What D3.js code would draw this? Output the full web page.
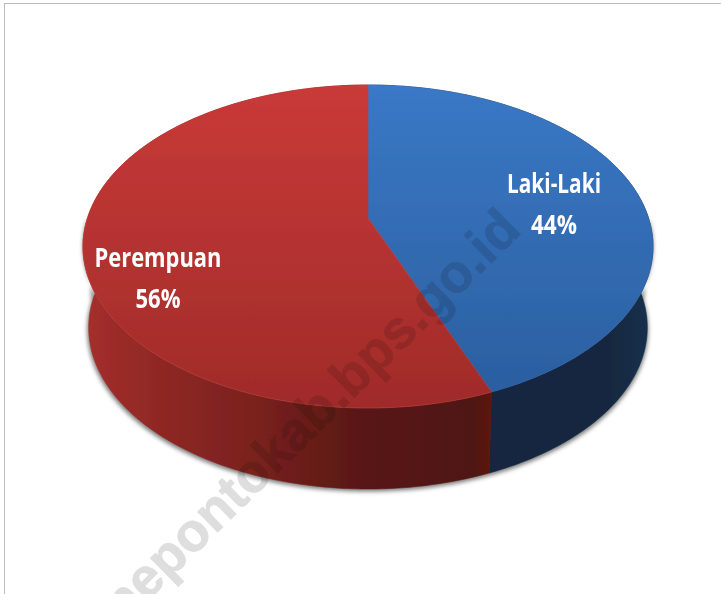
<!DOCTYPE html>
<html>
<head>
<meta charset="utf-8">
<script src="https://cdn.jsdelivr.net/npm/d3@7"></script>
<style>
html,body{margin:0;padding:0;background:#fff;overflow:hidden}
svg{display:block}
</style>
</head>
<body>
<svg id="chart" width="721" height="594"></svg>
<script>
// Data
const categories = ["Laki-Laki", "Perempuan"];
const percentages = [44, 56];
const watermarkText = "nepontokab.bps.go.id";

// Look
const topStops = [["#3a78c6", "#2a5e9e"], ["#c93a38", "#a02b29"]];
const wallStops = [
  [[0, "#12263f"], [0.75, "#13283f"], [1, "#16304c"]],
  [[0, "#a52e2b"], [0.18, "#8f2824"], [0.42, "#7a211e"], [0.68, "#591814"], [0.96, "#4f1512"], [1, "#5c1510"]]
];
const wallRange = [[488, 650], [85, 490]];
const labelCentres = [[554, 193], [158, 267]];
const labelWidths = [[94, 46], [127, 45]];

// Layout: the pie disc under perspective
const W = 721, H = 594;
const cx = 368, apexY = 218, rimTop = 85, rimBottom = 408, rimRight = 653;
const up = apexY - rimTop, down = rimBottom - apexY;
const k = (up - down) / (up + down);
const A = (rimRight - cx) * Math.sqrt(1 - k * k);
const xDisc = d3.scaleLinear().domain([0, 1]).range([0, A]);
const yDisc = d3.scaleLinear().domain([0, 1]).range([0, down * (1 + k)]);
const depth = 81, wallShrink = 0.98;

const project = (angle, r = 1) => {
  const x = r * Math.sin(angle), y = -r * Math.cos(angle), w = 1 + k * y;
  return [cx + xDisc(x) / w, apexY + yDisc(y) / w];
};
const lower = ([x, y]) => [cx + (x - cx) * wallShrink, y + depth];

const pie = d3.pie().sort(null).value(d => d);
const slices = pie(percentages);
const line = d3.line();
const arcAngles = (a0, a1) => {
  const n = Math.max(2, Math.ceil((a1 - a0) * 80));
  return d3.range(n + 1).map(i => a0 + (a1 - a0) * i / n);
};

const svg = d3.select("#chart");
const defs = svg.append("defs");
const soft = defs.append("filter").attr("id", "soft")
  .attr("x", "-5%").attr("y", "-5%").attr("width", "110%").attr("height", "110%");
soft.append("feGaussianBlur").attr("stdDeviation", 0.5);
const blur = defs.append("filter").attr("id", "shadow")
  .attr("x", "-10%").attr("y", "-10%").attr("width", "120%").attr("height", "120%");
blur.append("feGaussianBlur").attr("stdDeviation", 2);

slices.forEach((s, i) => {
  const g = defs.append("linearGradient").attr("id", "top" + i)
    .attr("gradientUnits", "userSpaceOnUse")
    .attr("x1", 0).attr("x2", 0).attr("y1", rimTop).attr("y2", rimBottom);
  g.append("stop").attr("offset", 0).attr("stop-color", topStops[i][0]);
  g.append("stop").attr("offset", 1).attr("stop-color", topStops[i][1]);
  const w = defs.append("linearGradient").attr("id", "wall" + i)
    .attr("gradientUnits", "userSpaceOnUse")
    .attr("x1", wallRange[i][0]).attr("x2", wallRange[i][1]).attr("y1", 0).attr("y2", 0);
  wallStops[i].forEach(([o, c]) => w.append("stop").attr("offset", o).attr("stop-color", c));
});

// Frame
svg.append("rect").attr("x", 4.5).attr("y", 3.5).attr("width", W + 20).attr("height", H + 20)
  .attr("fill", "#fff").attr("stroke", "#bdbdbd").attr("stroke-width", 1);

const chart = svg.append("g").attr("filter", "url(#soft)");

// Drop shadow under the disc
const ring = arcAngles(Math.PI / 2, Math.PI * 1.5);
const shadowPts = ring.map(a => {
  const p = lower(project(a));
  return [p[0] + (p[0] > cx ? 1 : -1.5), p[1] + 2.5];
});
chart.append("path")
  .attr("d", line(shadowPts.concat(ring.map(a => project(a)).reverse())) + "Z")
  .attr("fill", "#7d7d7d").attr("filter", "url(#shadow)");

// Walls, then top faces
slices.forEach((s, i) => {
  const upper = arcAngles(s.startAngle, s.endAngle).map(a => project(a));
  chart.append("path").attr("class", "wall")
    .attr("d", line(upper.concat(upper.map(lower).reverse())) + "Z")
    .attr("fill", `url(#wall${i})`)
    .attr("stroke", `url(#wall${i})`).attr("stroke-width", 0.6);
});
slices.forEach((s, i) => {
  const upper = arcAngles(s.startAngle, s.endAngle).map(a => project(a));
  chart.append("path").attr("class", "slice")
    .attr("d", line([[cx, apexY]].concat(upper)) + "Z")
    .attr("fill", `url(#top${i})`)
    .attr("stroke", `url(#top${i})`).attr("stroke-width", 0.6);
});

// Pale bevel along the front rim of the red slice
const bevel = arcAngles(slices[1].startAngle, Math.PI * 1.5).map(a => project(a));
chart.append("path").attr("d", line(bevel)).attr("fill", "none")
  .attr("stroke", "#c04a44").attr("stroke-opacity", 0.35).attr("stroke-width", 1);

// Labels
slices.forEach((s, i) => {
  const [x, y] = labelCentres[i];
  [categories[i], percentages[i] + "%"].forEach((t, j) => {
    chart.append("text")
      .attr("x", x).attr("y", y + j * 40.5)
      .attr("text-anchor", "middle")
      .attr("font-family", "'Open Sans','Noto Sans',sans-serif")
      .attr("font-weight", 700).attr("font-size", 26.5)
      .attr("textLength", labelWidths[i][j]).attr("lengthAdjust", "spacingAndGlyphs")
      .attr("fill", "#fff").text(t);
  });
});

// Watermark
svg.append("text")
  .attr("transform", "translate(523,232) rotate(-44.5)")
  .attr("text-anchor", "end")
  .attr("font-family", "'Liberation Sans',Arial,sans-serif")
  .attr("font-weight", 700).attr("font-size", 54)
  .attr("fill", "#dedede").attr("stroke", "#dedede").attr("stroke-width", 0.8)
  .style("mix-blend-mode", "multiply")
  .text(watermarkText);
</script>
</body>
</html>
